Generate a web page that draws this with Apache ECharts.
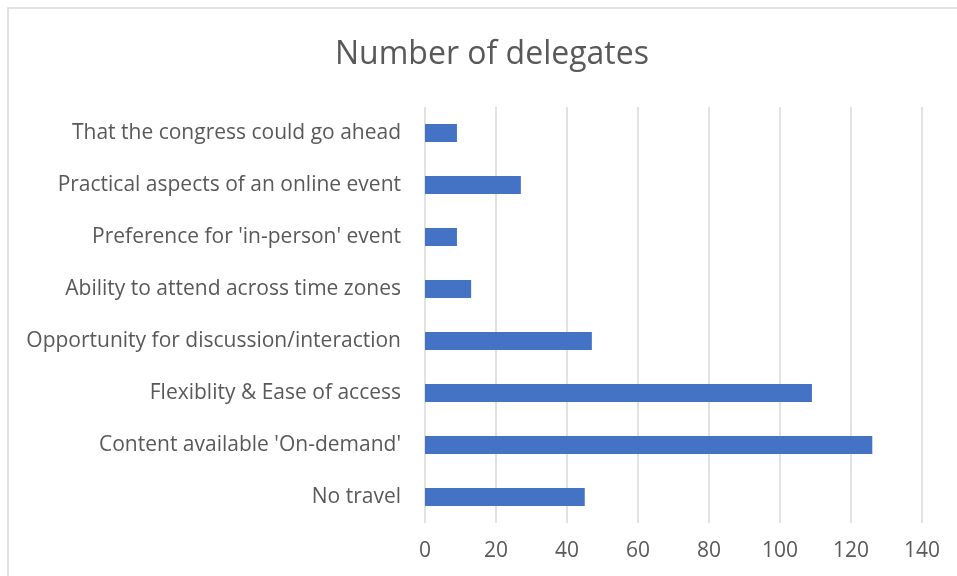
<!DOCTYPE html>
<html>
<head>
<meta charset="utf-8">
<script src="https://cdn.jsdelivr.net/npm/echarts@6/dist/echarts.min.js"></script>
<style>
  html, body { margin: 0; padding: 0; background: #fff; }
  #chart { width: 957px; height: 576px; }
</style>
</head>
<body>
<div id="chart"></div>
<script>
// categories listed bottom to top, as the category axis draws them
var categories = [
  'No travel',
  "Content available 'On-demand'",
  'Flexiblity & Ease of access',
  'Opportunity for discussion/interaction',
  'Ability to attend across time zones',
  "Preference for 'in-person' event",
  'Practical aspects of an online event',
  'That the congress could go ahead'
];
var delegates = [45, 126, 109, 47, 13, 9, 27, 9];
var xTicks = [0, 20, 40, 60, 80, 100, 120, 140];

var font = 'Open Sans';
var myChart = echarts.init(document.getElementById('chart'));
myChart.setOption({
  backgroundColor: '#ffffff',
  animation: false,
  graphic: [{
    type: 'rect',
    shape: { x: 8, y: 8, width: 1000, height: 700 },
    style: { fill: 'none', stroke: '#d9d9d9', lineWidth: 1.5 },
    silent: true
  }],
  title: {
    text: 'Number of delegates',
    left: 487,
    top: 34,
    textAlign: 'center',
    textStyle: { color: '#595959', fontFamily: font, fontSize: 32, fontWeight: 'normal' }
  },
  grid: { left: 425, right: 35, top: 107, bottom: 53, containLabel: false },
  xAxis: {
    type: 'value',
    min: xTicks[0],
    max: xTicks[xTicks.length - 1],
    interval: 20,
    axisLine: { show: false },
    axisTick: { show: false },
    axisLabel: { color: '#595959', fontFamily: font, fontSize: 21, margin: 18 },
    splitLine: { lineStyle: { color: '#d9d9d9', width: 1.5 } }
  },
  yAxis: {
    type: 'category',
    data: categories,
    axisLine: { show: false },
    axisTick: { show: false },
    axisLabel: { color: '#595959', fontFamily: font, fontSize: 21, margin: 24 },
    splitLine: { show: false }
  },
  series: [{
    type: 'bar',
    data: delegates,
    barWidth: 18,
    itemStyle: { color: '#4472c4' }
  }]
});
</script>
</body>
</html>
